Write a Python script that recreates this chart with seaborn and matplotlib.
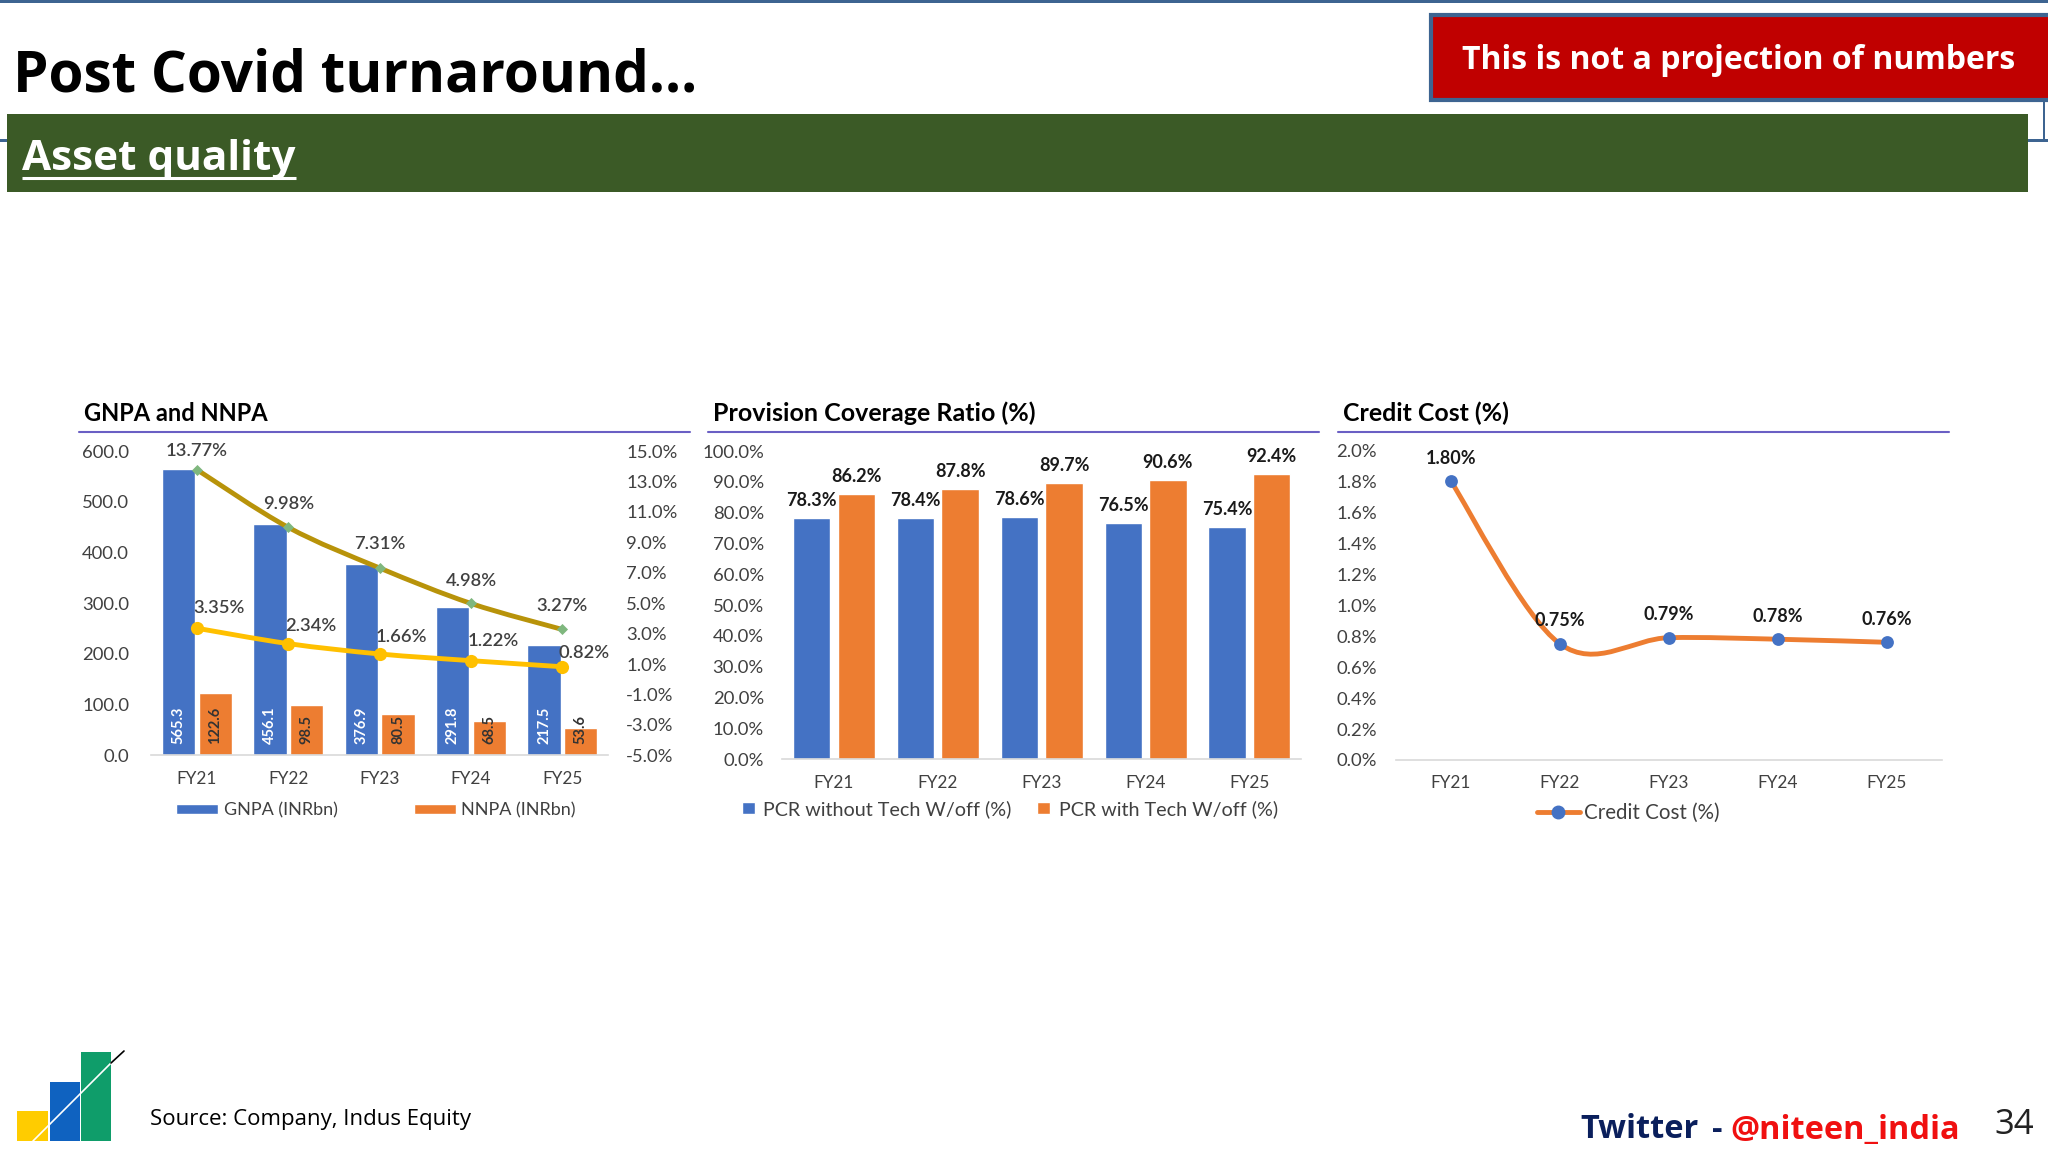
import pandas as pd
import matplotlib.pyplot as plt
import numpy as np
import seaborn as sns
from matplotlib.lines import Line2D
from matplotlib.patches import PathPatch, Patch, Rectangle
from matplotlib.path import Path

sns.set_theme(style='white')
plt.rcParams['font.family'] = ['Lato', 'DejaVu Sans']

# --- data ---
years = ['FY21', 'FY22', 'FY23', 'FY24', 'FY25']
gnpa = [565.3, 456.1, 376.9, 291.8, 217.5]
nnpa = [122.6, 98.5, 80.5, 68.5, 53.6]
gnpa_pct = [13.77, 9.98, 7.31, 4.98, 3.27]
nnpa_pct = [3.35, 2.34, 1.66, 1.22, 0.82]
pcr_without = [78.3, 78.4, 78.6, 76.5, 75.4]
pcr_with = [86.2, 87.8, 89.7, 90.6, 92.4]
credit_cost = [1.80, 0.75, 0.79, 0.78, 0.76]

BLUE = '#4472C4'
ORANGE = '#ED7D31'
W, H = 2048, 1152
TICK = '#404040'


def px_axes(fig, left, top, right, bottom):
    ax = fig.add_axes([left / W, 1 - bottom / H, (right - left) / W, (bottom - top) / H])
    ax.patch.set_alpha(0)
    return ax


def smooth_path(xs, ys):
    # same kind of smoothing the spreadsheet line uses
    p = np.column_stack([xs, ys]).astype(float)
    before = np.vstack([p[0], p[:-1]])
    after = np.vstack([p[1:], p[-1]])
    m = (after - before) / 2
    verts = [p[0]]
    codes = [Path.MOVETO]
    for i in range(len(p) - 1):
        verts += [p[i] + m[i] / 3, p[i + 1] - m[i + 1] / 3, p[i + 1]]
        codes += [Path.CURVE4] * 3
    return Path(verts, codes)


def draw_line(ax, values, color, marker, marker_color, size):
    xs = np.arange(len(values))
    ax.add_patch(PathPatch(smooth_path(xs, values), fc='none', ec=color, lw=3.5, capstyle='round', zorder=3))
    sns.scatterplot(x=xs, y=values, ax=ax, marker=marker, color=marker_color, s=size,
                    linewidth=0, zorder=4, legend=False)


def grouped_bars(ax, first, second, names, width, gap):
    df = pd.DataFrame({'year': years, names[0]: first, names[1]: second})
    df = df.melt(id_vars='year', var_name='series', value_name='value')
    sns.barplot(data=df, x='year', y='value', hue='series', palette=[BLUE, ORANGE], width=width,
                gap=gap, saturation=1, legend=False, ax=ax)


def style_axis(ax, ticks, fmt, pad):
    sns.despine(ax=ax, left=True, top=True, right=True)
    ax.spines['bottom'].set_color('#D9D9D9')
    ax.spines['bottom'].set_linewidth(1.2)
    ax.set_xlim(-0.5, 4.5)
    ax.set_xticks(range(5))
    ax.set_xticklabels(years)
    ax.set_yticks(ticks)
    ax.set_yticklabels([fmt % t for t in ticks])
    ax.set_xlabel('')
    ax.set_ylabel('')
    ax.tick_params(axis='x', length=0, pad=11, labelsize=12.4, labelcolor=TICK)
    ax.tick_params(axis='y', length=0, pad=pad, labelsize=13.3, labelcolor=TICK)


fig = plt.figure(figsize=(W / 100, H / 100), dpi=100, facecolor='white')

# --- slide furniture, in pixels ---
bg = fig.add_axes([0, 0, 1, 1])
bg.set_xlim(0, W)
bg.set_ylim(H, 0)
bg.axis('off')
FRAME = '#3D6491'
bg.add_patch(Rectangle((0, 0), W, 2.5, fc=FRAME, ec='none'))
bg.add_patch(Rectangle((0, 139), 8, 3, fc=FRAME, ec='none'))
bg.add_patch(Rectangle((2028, 139), 20, 3, fc=FRAME, ec='none'))
bg.add_patch(Rectangle((2043, 100), 1.5, 40, fc=FRAME, ec='none'))
bg.add_patch(Rectangle((1430.5, 14.5), 620, 85, fc='#C00000', ec=FRAME, lw=3))
bg.add_patch(Rectangle((6.5, 114), 2021.5, 78, fc='#3B5A26', ec='none'))
bg.text(13, 92, 'Post Covid turnaround...', fontsize=40.8, fontweight='bold', family='Open Sans', color='black', va='baseline')
bg.text(1739, 60.5, 'This is not a projection of numbers', fontsize=23, fontweight='bold', family='Open Sans',
        color='white', ha='center', va='center')
bg.text(22, 170, 'Asset quality', fontsize=30.4, fontweight='bold', family='Open Sans', color='white', va='baseline')
bg.plot([22, 296], [178, 178], color='white', lw=2.2, solid_capstyle='butt')

# logo
bg.add_patch(Rectangle((17, 1111), 31, 30, fc='#FFCC00', ec='none'))
bg.add_patch(Rectangle((50, 1082), 30, 59, fc='#0F62C0', ec='none'))
bg.add_patch(Rectangle((81, 1052), 30, 89, fc='#0F9D6A', ec='none'))
bg.plot([33, 111], [1141, 1063], color='white', lw=1.2)
bg.plot([111, 124], [1063, 1051], color='black', lw=1.2)

bg.text(150, 1120, 'Source: Company, Indus Equity', fontsize=16, family='Open Sans', color='black', va='center')
bg.text(1580, 1130, 'Twitter', fontsize=23.4, fontweight='bold', family='Open Sans', color='#0A1F5C', va='center')
bg.text(1712, 1130, '-', fontsize=23.4, fontweight='bold', family='Open Sans', color='#0A1F5C', va='center')
bg.text(1730, 1130, '@niteen_india', fontsize=23.4, fontweight='bold', family='Open Sans', color='#F01010', va='center')
bg.text(1994, 1125, '34', fontsize=25, family='Open Sans', color='#222222', va='center')

# panel headers
for x0, x1, tx, label, size in [(79, 690, 84, 'GNPA and NNPA', 17),
                                (708, 1319, 713, 'Provision Coverage Ratio (%)', 18),
                                (1338, 1949, 1343, 'Credit Cost (%)', 17.9)]:
    bg.plot([x0, x1], [431.5, 431.5], color='#6A5FC4', lw=1.5)
    bg.text(tx, 413.5, label, fontsize=size, fontweight='bold', color='black', va='center')

# --- GNPA and NNPA ---
ax1 = px_axes(fig, 151.3, 451, 608, 755.3)
grouped_bars(ax1, gnpa, nnpa, ['GNPA (INRbn)', 'NNPA (INRbn)'], 0.8, 0.0875)
ax1.set_ylim(0, 600)
style_axis(ax1, np.arange(0, 601, 100), '%.1f', 16)
for container, values, color in zip(ax1.containers, [gnpa, nnpa], ['white', '#333333']):
    for bar, v in zip(container, values):
        ax1.annotate('%.1f' % v, (bar.get_x() + bar.get_width() / 2, 0), xytext=(0, 8), textcoords='offset points',
                     rotation=90, ha='center', va='bottom', fontsize=10.5, fontweight='bold', color=color)

ax1r = ax1.twinx()
ax1r.patch.set_alpha(0)
ax1r.set_ylim(-5, 15)
sns.despine(ax=ax1r, left=True, top=True, right=True, bottom=True)
ax1r.set_yticks(np.arange(-5, 16, 2))
ax1r.set_yticklabels(['%.1f%%' % t for t in np.arange(-5, 16, 2)])
ax1r.tick_params(axis='y', length=0, pad=13, labelsize=13.3, labelcolor=TICK)
ax1r.set_ylabel('')
draw_line(ax1r, gnpa_pct, '#B8930A', 'D', '#7FB77E', 32)
draw_line(ax1r, nnpa_pct, '#FFC000', 'o', '#FFC000', 90)
for i, (v, dy) in enumerate(zip(gnpa_pct, [19, 23, 24, 22, 23])):
    ax1r.annotate('%.2f%%' % v, (i, v), xytext=(0, dy * 0.72), textcoords='offset points', ha='center', va='center',
                  fontsize=13.2, fontweight='semibold', color=TICK)
for i, (v, dy) in enumerate(zip(nnpa_pct, [20, 18, 17, 20, 14])):
    ax1r.annotate('%.2f%%' % v, (i, v), xytext=(16, dy * 0.72), textcoords='offset points', ha='center', va='center',
                  fontsize=13.2, fontweight='semibold', color=TICK)
ax1.legend(handles=[Patch(fc=BLUE, label='GNPA (INRbn)'), Patch(fc=ORANGE, label='NNPA (INRbn)')], ncol=2,
           loc='center', bbox_to_anchor=(376, 810), bbox_transform=bg.transData, frameon=False, fontsize=13,
           handlelength=2.35, handleheight=0.5, handletextpad=0.3, columnspacing=4.2, labelcolor=TICK,
           borderpad=0, borderaxespad=0)

# --- Provision Coverage Ratio ---
ax2 = px_axes(fig, 782, 451, 1301.4, 759.3)
grouped_bars(ax2, pcr_without, pcr_with, ['PCR without Tech W/off (%)', 'PCR with Tech W/off (%)'], 0.86, 0.163)
ax2.set_ylim(0, 100)
style_axis(ax2, np.arange(0, 101, 10), '%.1f%%', 13)
for container in ax2.containers:
    ax2.bar_label(container, fmt='%.1f%%', padding=6.5, fontsize=13, fontweight='bold', color='#1A1A1A')
ax2.legend(handles=[Patch(fc=BLUE, label='PCR without Tech W/off (%)'), Patch(fc=ORANGE, label='PCR with Tech W/off (%)')],
           ncol=2, loc='center', bbox_to_anchor=(1010, 809), bbox_transform=bg.transData, frameon=False, fontsize=14.2,
           handlelength=0.65, handleheight=0.55, handletextpad=0.45, columnspacing=1.3, labelcolor=TICK,
           borderpad=0, borderaxespad=0)

# --- Credit Cost ---
ax3 = px_axes(fig, 1396.4, 450.3, 1941.5, 760)
ax3.set_ylim(0, 2)
draw_line(ax3, credit_cost, ORANGE, 'o', BLUE, 85)
style_axis(ax3, np.arange(0, 2.01, 0.2), '%.1f%%', 14)
for i, v in enumerate(credit_cost):
    ax3.annotate('%.2f%%' % v, (i, v), xytext=(0, 16.5), textcoords='offset points', ha='center', va='center',
                 fontsize=13, fontweight='bold', color='#1A1A1A')
handle = Line2D([], [], color=ORANGE, lw=3.5, marker='o', markersize=9, markerfacecolor=BLUE, markeredgecolor=BLUE,
                label='Credit Cost (%)')
ax3.legend(handles=[handle], loc='center', bbox_to_anchor=(1628, 813), bbox_transform=bg.transData, frameon=False,
           fontsize=14.8, handlelength=2.1, handletextpad=0.2, labelcolor=TICK, borderpad=0, borderaxespad=0)

fig.savefig('out.png', dpi=100)
